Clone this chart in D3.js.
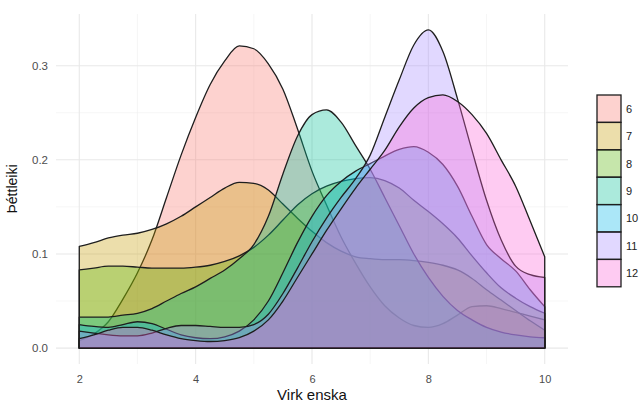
<!DOCTYPE html>
<html>
<head>
<meta charset="utf-8">
<script src="https://cdn.jsdelivr.net/npm/d3@7"></script>
<style>
  body { margin: 0; background: #fff; }
  svg { font-family: "Liberation Sans", Arial, sans-serif; }
</style>
</head>
<body>
<div id="chart"></div>
<script>
// x grid of the density estimates (score on "Virk enska")
var xs = d3.range(2, 10.001, 0.25);

var groups = ["6", "7", "8", "9", "10", "11", "12"];
var colors = ["#F8766D", "#C49A00", "#53B400", "#00C094", "#00B6EB", "#A58AFF", "#FB61D7"];

var d6 = [0.008, 0.015, 0.028, 0.052, 0.08, 0.115, 0.16, 0.205, 0.245, 0.28, 0.305, 0.321, 0.318, 0.302, 0.275, 0.233,
          0.188, 0.152, 0.118, 0.09, 0.065, 0.045, 0.032, 0.024, 0.022, 0.026, 0.035, 0.044, 0.045, 0.042, 0.038, 0.034, 0.03];
var d7 = [0.108, 0.112, 0.117, 0.12, 0.122, 0.126, 0.132, 0.14, 0.15, 0.16, 0.17, 0.176, 0.175, 0.168, 0.153, 0.138,
          0.124, 0.112, 0.103, 0.097, 0.095, 0.094, 0.094, 0.093, 0.091, 0.088, 0.083, 0.074, 0.062, 0.051, 0.04, 0.029, 0.019];
var d8 = [0.083, 0.085, 0.087, 0.087, 0.086, 0.085, 0.085, 0.085, 0.086, 0.088, 0.092, 0.098, 0.107, 0.12, 0.136, 0.152,
          0.164, 0.172, 0.177, 0.18, 0.181, 0.178, 0.17, 0.157, 0.145, 0.132, 0.117, 0.098, 0.08, 0.064, 0.053, 0.044, 0.037];
var d9 = [0.033, 0.033, 0.033, 0.035, 0.037, 0.042, 0.05, 0.058, 0.065, 0.074, 0.083, 0.095, 0.11, 0.14, 0.185, 0.225,
          0.248, 0.253, 0.24, 0.215, 0.19, 0.16, 0.13, 0.1, 0.075, 0.055, 0.04, 0.03, 0.022, 0.017, 0.014, 0.012, 0.011];
var d10 = [0.025, 0.023, 0.022, 0.025, 0.028, 0.026, 0.02, 0.014, 0.011, 0.01, 0.012, 0.018, 0.03, 0.05, 0.08, 0.112,
           0.14, 0.162, 0.177, 0.188, 0.196, 0.204, 0.211, 0.214, 0.208, 0.195, 0.172, 0.14, 0.11, 0.095, 0.082, 0.062, 0.044];
var d11 = [0.018, 0.016, 0.014, 0.013, 0.013, 0.016, 0.021, 0.024, 0.024, 0.023, 0.022, 0.022, 0.025, 0.036, 0.058, 0.085,
           0.113, 0.138, 0.16, 0.18, 0.205, 0.245, 0.285, 0.322, 0.338, 0.315, 0.265, 0.21, 0.157, 0.115, 0.087, 0.078, 0.075];
var d12 = [0.01, 0.014, 0.019, 0.022, 0.022, 0.019, 0.014, 0.01, 0.008, 0.007, 0.008, 0.011, 0.018, 0.03, 0.05, 0.075,
           0.1, 0.125, 0.148, 0.17, 0.19, 0.21, 0.235, 0.255, 0.266, 0.269, 0.262, 0.248, 0.228, 0.2, 0.172, 0.135, 0.097];
var densities = [d6, d7, d8, d9, d10, d11, d12];

var xTicks = [2, 4, 6, 8, 10];
var yTicks = [0, 0.1, 0.2, 0.3];

function init() {
    var w = 643, h = 405;
    var pLeft = 56, pRight = 568, pTop = 14, pBottom = 364;

    var svg = d3.select("#chart").append("svg")
        .attr("width", w)
        .attr("height", h);

    var x = d3.scaleLinear().domain([1.6, 10.4]).range([pLeft, pRight]);
    var y = d3.scaleLinear().domain([-0.0169, 0.3549]).range([pBottom, pTop]);

    // grid (theme_minimal)
    var grid = svg.append("g");
    grid.selectAll(".gxm")
        .data([3, 5, 7, 9])
        .enter().append("line")
        .attr("x1", d => x(d)).attr("x2", d => x(d))
        .attr("y1", pTop).attr("y2", pBottom)
        .attr("stroke", "#f0f0f0").attr("stroke-width", 0.6);
    grid.selectAll(".gym")
        .data([0.05, 0.15, 0.25])
        .enter().append("line")
        .attr("y1", d => y(d)).attr("y2", d => y(d))
        .attr("x1", pLeft).attr("x2", pRight)
        .attr("stroke", "#f0f0f0").attr("stroke-width", 0.6);
    grid.selectAll(".gx")
        .data(xTicks)
        .enter().append("line")
        .attr("x1", d => x(d)).attr("x2", d => x(d))
        .attr("y1", pTop).attr("y2", pBottom)
        .attr("stroke", "#e8e8e8").attr("stroke-width", 1.1);
    grid.selectAll(".gy")
        .data(yTicks)
        .enter().append("line")
        .attr("y1", d => y(d)).attr("y2", d => y(d))
        .attr("x1", pLeft).attr("x2", pRight)
        .attr("stroke", "#e8e8e8").attr("stroke-width", 1.1);

    // density areas, outline drawn all round like geom_density
    var area = d3.area()
        .x((d, i) => x(xs[i]))
        .y0(y(0))
        .y1(d => y(d))
        .curve(d3.curveMonotoneX);

    svg.append("g").selectAll("path")
        .data(densities)
        .enter().append("path")
        .attr("d", d => area(d) + "Z")
        .attr("fill", (d, i) => colors[i])
        .attr("fill-opacity", 0.33)
        .attr("stroke", "#1e1e1e")
        .attr("stroke-width", 1.3)
        .attr("stroke-linejoin", "round");

    // axes, no lines or ticks
    var xAxis = svg.append("g")
        .attr("transform", "translate(0," + pBottom + ")")
        .call(d3.axisBottom(x).tickValues(xTicks).tickSize(0).tickPadding(11).tickFormat(d3.format("d")));
    xAxis.select(".domain").remove();
    xAxis.selectAll("text").attr("font-size", 11).attr("fill", "#4d4d4d")
        .attr("font-family", "Liberation Sans, Arial, sans-serif");

    var yAxis = svg.append("g")
        .attr("transform", "translate(" + pLeft + ",0)")
        .call(d3.axisLeft(y).tickValues(yTicks).tickSize(0).tickPadding(8).tickFormat(d3.format(".1f")));
    yAxis.select(".domain").remove();
    yAxis.selectAll("text").attr("font-size", 11.5).attr("fill", "#4d4d4d")
        .attr("font-family", "Liberation Sans, Arial, sans-serif");

    // axis titles
    svg.append("text")
        .attr("x", (pLeft + pRight) / 2)
        .attr("y", 400)
        .attr("text-anchor", "middle")
        .attr("font-size", 15)
        .attr("fill", "#111")
        .text("Virk enska");

    svg.append("text")
        .attr("transform", "translate(17," + ((pTop + pBottom) / 2) + ") rotate(-90)")
        .attr("text-anchor", "middle")
        .attr("font-size", 14)
        .attr("fill", "#111")
        .text("Þéttleiki");

    // legend
    var keyH = 27.4, keyW = 24, legX = 597, legY = 95;
    var leg = svg.append("g");
    leg.selectAll("rect")
        .data(groups)
        .enter().append("rect")
        .attr("x", legX)
        .attr("y", (d, i) => legY + i * keyH)
        .attr("width", keyW)
        .attr("height", keyH)
        .attr("fill", (d, i) => colors[i])
        .attr("fill-opacity", 0.33)
        .attr("stroke", "#1e1e1e")
        .attr("stroke-width", 1.3);
    leg.selectAll("text")
        .data(groups)
        .enter().append("text")
        .attr("x", legX + keyW + 5)
        .attr("y", (d, i) => legY + i * keyH + keyH / 2 + 4)
        .attr("font-size", 11)
        .attr("fill", "#222")
        .text(d => d);
}

window.onload = init;
</script>
</body>
</html>
